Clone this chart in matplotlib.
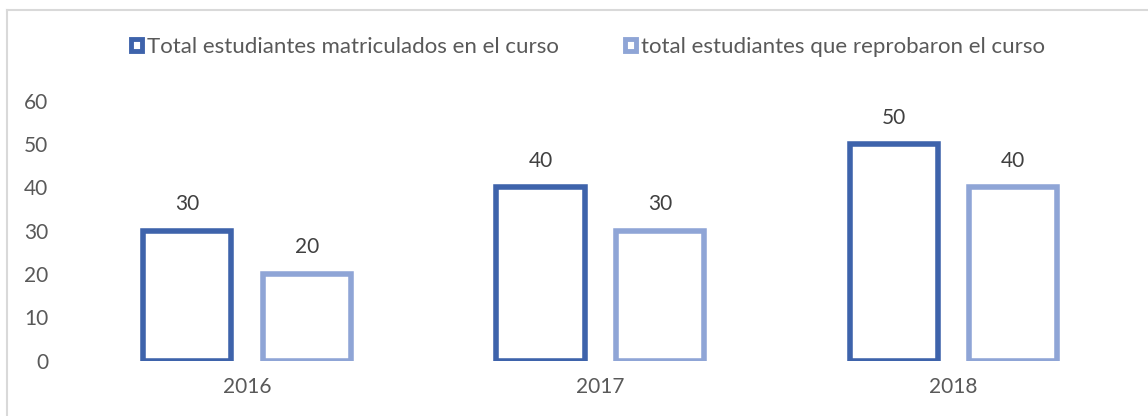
import numpy as np
import matplotlib
matplotlib.use("Agg")
from matplotlib import pyplot as plt
from matplotlib.patches import Rectangle
from matplotlib.lines import Line2D

years = ["2016", "2017", "2018"]
matriculados = [30, 40, 50]
reprobaron = [20, 30, 40]
labels = ["Total estudiantes matriculados en el curso",
          "total estudiantes que reprobaron el curso"]
colors = ["#3E63AB", "#8FA5D6"]

plt.rcParams['font.family'] = ['Lato', 'DejaVu Sans']

fig = plt.figure(figsize=(11.48, 4.16), dpi=100)
ax = fig.add_axes([0.0613, 0.133, 0.9230, 0.6245])

x = np.arange(len(years))
w = 0.25
off = 0.169
for vals, sign, c in [(matriculados, -1, colors[0]), (reprobaron, 1, colors[1])]:
    bars = ax.bar(x + sign * off, vals, width=w, facecolor="white",
                  edgecolor=c, linewidth=4, joinstyle="miter")
    for b, v in zip(bars, vals):
        ax.annotate(str(v), (b.get_x() + b.get_width() / 2, v),
                    xytext=(0, 12), textcoords="offset points",
                    ha="center", va="bottom", fontsize=15, color="#404040")

ax.set_xlim(-0.5, 2.5)
ax.set_ylim(0, 60)
ax.set_yticks(range(0, 61, 10))
ax.set_xticks(x)
ax.set_xticklabels(years)
for s in ax.spines.values():
    s.set_visible(False)
ax.tick_params(length=0, labelsize=15, labelcolor="#595959")
ax.tick_params(axis="y", pad=16)
ax.tick_params(axis="x", pad=12)

handles = [Rectangle((0, 0), 1, 1, facecolor="white", edgecolor=c, linewidth=3.5)
           for c in colors]
fig.legend(handles, labels, loc="center", bbox_to_anchor=(0.512, 0.887),
           ncol=2, frameon=False, fontsize=16, labelcolor="#595959",
           handlelength=0.5, handleheight=0.5, handletextpad=0.2,
           columnspacing=3.0)

# chart frame
fig.add_artist(Line2D([6.5 / 1148, 6.5 / 1148], [0, 1 - 9.5 / 416],
                      transform=fig.transFigure, color="#D9D9D9", lw=1.5))
fig.add_artist(Line2D([6.5 / 1148, 1], [1 - 9.5 / 416, 1 - 9.5 / 416],
                      transform=fig.transFigure, color="#D9D9D9", lw=1.5))

fig.savefig("out.png", dpi=100)
